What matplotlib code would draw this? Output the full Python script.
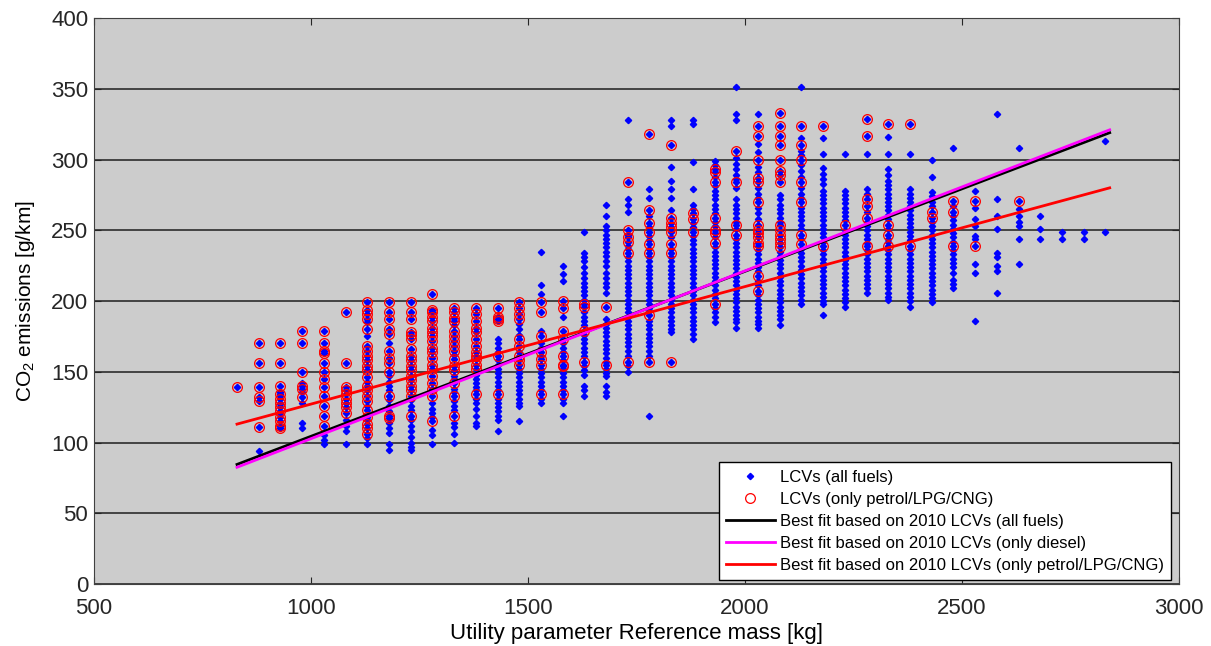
import matplotlib
matplotlib.use("Agg")
import matplotlib.pyplot as plt
import numpy as np

plt.rcParams['font.family'] = ['Liberation Sans', 'DejaVu Sans']
plt.rcParams['mathtext.default'] = 'regular'

# reference mass columns [kg]
masses = [830, 880, 930, 980, 1030, 1080, 1130, 1180, 1230, 1280,
          1330, 1380, 1430, 1480, 1530, 1580, 1630, 1680, 1730, 1780,
          1830, 1880, 1930, 1980, 2030, 2080, 2130, 2180, 2230, 2280,
          2330, 2380, 2430, 2480, 2530, 2580, 2630, 2680, 2730, 2780, 2830]

# petrol/LPG/CNG vehicles (red circles), one list per mass column
red_co2 = [
    [139],
    [170, 156, 139, 132, 129, 111],
    [170, 156, 140, 134, 131, 128, 125, 122, 118, 115, 112, 110],
    [179, 170, 150, 140, 138, 132],
    [179, 170, 165, 163, 156, 150, 145, 139, 133, 126, 119, 112],
    [192, 156, 139, 137, 134, 131, 128, 125, 121],
    [199, 194, 191, 187, 180, 168, 165, 161, 158, 154, 151, 146, 140, 137, 133, 129, 123, 118, 113, 110, 106],
    [199, 192, 187, 180, 177, 165, 160, 156, 150, 133, 119, 117],
    [199, 192, 187, 178, 176, 173, 166, 161, 158, 154, 151, 147, 144, 140, 137, 133, 119],
    [205, 194, 192, 189, 186, 181, 178, 175, 172, 167, 164, 160, 155, 152, 147, 142, 138, 133, 115],
    [195, 192, 188, 186, 179, 175, 172, 168, 165, 159, 154, 151, 142, 133, 119],
    [195, 191, 186, 181, 178, 173, 168, 164, 161, 159, 155, 152, 134],
    [195, 189, 187, 186, 161, 134],
    [199, 195, 191, 187, 173, 168, 161, 158, 155],
    [199, 192, 175, 164, 159, 155, 134],
    [200, 195, 179, 173, 161, 155, 154, 134],
    [198, 196, 179, 157],
    [196, 155],
    [284, 250, 245, 242, 234, 157],
    [318, 264, 255, 249, 240, 234, 190, 157],
    [310, 259, 255, 252, 249, 240, 234, 157],
    [262, 258, 249],
    [293, 291, 284, 259, 250, 248, 241, 198],
    [306, 284, 254, 247],
    [324, 317, 300, 287, 284, 270, 254, 250, 248, 245, 241, 239, 218, 207],
    [333, 324, 317, 310, 300, 292, 289, 284, 254, 250, 247, 244, 241, 238],
    [324, 310, 300, 284, 270, 247, 240],
    [324, 239],
    [254],
    [329, 317, 272, 267, 259, 239],
    [325, 254, 247, 239],
    [325, 239],
    [263, 259],
    [271, 263, 239],
    [271, 239],
    [],
    [271],
    [], [], [], [],
]

# remaining vehicles (diesel etc.), blue only
blue_only_co2 = [
    [],
    [94],
    [136, 133, 127, 121],
    [142, 136, 128, 114, 110],
    [105, 102, 99],
    [116, 112, 108, 99],
    [185, 175, 143, 126, 116, 103, 99],
    [170, 147, 143, 140, 137, 130, 126, 122, 114, 110, 107, 99, 95],
    [130, 126, 123, 116, 112, 108, 104, 100, 97, 95],
    [128, 124, 121, 118, 109, 105, 99],
    [183, 162, 147, 145, 138, 136, 129, 126, 123, 114, 111, 106, 100],
    [148, 145, 142, 139, 137, 131, 128, 124, 119, 114, 112],
    [173, 170, 167, 164, 158, 155, 152, 149, 146, 143, 140, 137, 131, 128, 125, 122, 119, 116, 108],
    [184, 180, 176, 164, 152, 149, 146, 143, 140, 137, 134, 131, 128, 126, 115],
    [235, 211, 205, 179, 170, 167, 161, 152, 149, 146, 143, 140, 137, 131, 128],
    [225, 219, 214, 189, 170, 167, 164, 158, 152, 149, 146, 143, 140, 137, 131, 128, 119],
    [249, 234, 231, 228, 224, 220, 216, 213, 210, 207, 204, 201, 192, 189, 186, 183, 176, 173,
     170, 167, 164, 161, 154, 151, 148, 140, 137, 133],
    [268, 260, 253, 250, 247, 244, 241, 238, 235, 232, 228, 225, 220, 216, 213, 210, 206, 187,
     184, 181, 178, 175, 172, 169, 166, 163, 160, 157, 152, 149, 147, 140, 136, 133],
    [328, 272, 268, 263, 247, 239, 237, 231, 228, 225, 222, 219, 216, 213, 210, 207, 204, 201,
     198, 195, 192, 189, 186, 183, 180, 177, 174, 171, 168, 165, 161, 154, 150],
    [279, 273, 260, 252, 246, 243, 237, 231, 228, 225, 222, 219, 216, 213, 210, 207, 204, 201,
     198, 195, 193, 186, 183, 180, 177, 174, 171, 168, 165, 161, 119],
    [328, 324, 295, 285, 279, 273, 264, 245, 237, 231, 228, 225, 222, 219, 216, 213, 210, 207,
     204, 201, 198, 195, 192, 189, 186, 183, 180, 178],
    [328, 325, 298, 279, 268, 265, 255, 252, 246, 243, 240, 237, 234, 231, 228, 225, 222, 219,
     216, 213, 210, 207, 204, 201, 198, 195, 192, 189, 186, 183, 180, 177, 173],
    [299, 296, 288, 281, 278, 275, 272, 268, 265, 262, 256, 253, 245, 238, 235, 232, 229, 226,
     223, 220, 217, 214, 211, 208, 205, 202, 195, 192, 189, 185],
    [351, 332, 328, 301, 297, 293, 289, 286, 280, 272, 268, 265, 262, 259, 256, 251, 244, 241,
     238, 235, 232, 229, 226, 223, 220, 217, 214, 211, 208, 205, 202, 199, 196, 193, 190, 187, 185, 181],
    [332, 311, 305, 295, 291, 280, 276, 273, 266, 262, 258, 236, 233, 230, 227, 224, 221, 214,
     211, 204, 201, 198, 195, 192, 189, 186, 184, 181],
    [275, 272, 268, 265, 262, 259, 256, 235, 232, 229, 226, 223, 220, 217, 214, 211, 208, 205,
     202, 199, 196, 193, 190, 187, 183],
    [351, 315, 306, 303, 296, 292, 288, 280, 276, 273, 266, 263, 260, 257, 254, 251, 244, 237,
     234, 231, 228, 225, 222, 219, 216, 213, 210, 207, 204, 201, 198],
    [315, 304, 294, 290, 286, 283, 278, 275, 272, 269, 266, 263, 260, 257, 254, 251, 248, 245,
     242, 236, 233, 230, 227, 224, 221, 218, 215, 212, 209, 206, 203, 200, 198, 190],
    [304, 278, 275, 272, 269, 266, 263, 260, 257, 250, 247, 244, 241, 238, 235, 232, 229, 226,
     223, 220, 217, 214, 211, 208, 205, 202, 199, 196],
    [304, 279, 276, 263, 256, 253, 250, 247, 244, 241, 236, 233, 230, 227, 224, 221, 218, 215,
     212, 209, 206],
    [316, 304, 293, 289, 285, 282, 279, 276, 273, 270, 267, 264, 261, 258, 251, 244, 242, 236,
     233, 230, 227, 224, 221, 218, 215, 212, 209, 206, 203, 201],
    [304, 279, 276, 273, 270, 267, 264, 261, 258, 255, 252, 249, 246, 243, 236, 233, 230, 227,
     224, 221, 218, 215, 212, 209, 206, 203, 200, 196],
    [300, 288, 277, 274, 270, 267, 256, 253, 250, 247, 244, 241, 238, 235, 232, 229, 226, 223,
     220, 217, 214, 211, 208, 205, 202, 199],
    [308, 267, 260, 257, 254, 251, 248, 245, 242, 236, 233, 230, 227, 224, 220, 215, 212, 209],
    [278, 266, 258, 253, 246, 244, 226, 220, 186],
    [332, 272, 260, 251, 234, 231, 225, 221, 206],
    [308, 265, 260, 256, 253, 244, 226],
    [260, 251, 244],
    [249, 244],
    [249, 244],
    [313, 249],
]

# best fit lines (end points)
fit_mass = [830, 2840]
fit_all = [84.5, 319]
fit_diesel = [82.5, 321]
fit_petrol = [113, 280]


def flatten(cols):
    xs, ys = [], []
    for m, col in zip(masses, cols):
        xs.extend([m] * len(col))
        ys.extend(col)
    return np.array(xs), np.array(ys)


red_x, red_y = flatten(red_co2)
bo_x, bo_y = flatten(blue_only_co2)
blue_x = np.concatenate([red_x, bo_x])
blue_y = np.concatenate([red_y, bo_y])

fig = plt.figure(figsize=(12.11, 6.46), dpi=100)
ax = fig.add_axes([0.0774, 0.096, 0.8963, 0.876])
ax.set_facecolor('#cccccc')

ax.plot(blue_x, blue_y, 'D', color='#0000ff', markersize=3.2, linestyle='none',
        label='LCVs (all fuels)', zorder=3)
ax.plot(red_x, red_y, 'o', markerfacecolor='none', markeredgecolor='#ff0000',
        markersize=7, markeredgewidth=0.9, linestyle='none',
        label='LCVs (only petrol/LPG/CNG)', zorder=4)
ax.plot(fit_mass, fit_all, color='black', lw=2, label='Best fit based on 2010 LCVs (all fuels)', zorder=5)
ax.plot(fit_mass, fit_diesel, color='#ff00ff', lw=2, label='Best fit based on 2010 LCVs (only diesel)', zorder=5)
ax.plot(fit_mass, fit_petrol, color='#ff0000', lw=2, label='Best fit based on 2010 LCVs (only petrol/LPG/CNG)', zorder=5)

ax.set_xlim(500, 3000)
ax.set_ylim(0, 400)
ax.set_xticks(np.arange(500, 3001, 500))
ax.set_yticks(np.arange(0, 401, 50))
ax.yaxis.grid(True, color='#383838', lw=1.3)
ax.set_axisbelow(True)
ax.tick_params(direction='in', length=5, top=True, right=True, labelsize=16, colors='#262626')
ax.tick_params(axis='x', pad=10)
ax.tick_params(axis='y', pad=4)
for s in ax.spines.values():
    s.set_color('#404040')

ax.set_xlabel('Utility parameter Reference mass [kg]', fontsize=16, labelpad=3)
ax.set_ylabel('CO$_2$ emissions [g/km]', fontsize=15, labelpad=10)

leg = ax.legend(loc='lower right', bbox_to_anchor=(0.9926, 0.007), borderaxespad=0,
                fontsize=12, fancybox=False, framealpha=1, edgecolor='black',
                handlelength=2.9, labelspacing=0.42, borderpad=0.45, handletextpad=0.3)
leg.get_frame().set_linewidth(1)

fig.savefig('out.png', dpi=100)
